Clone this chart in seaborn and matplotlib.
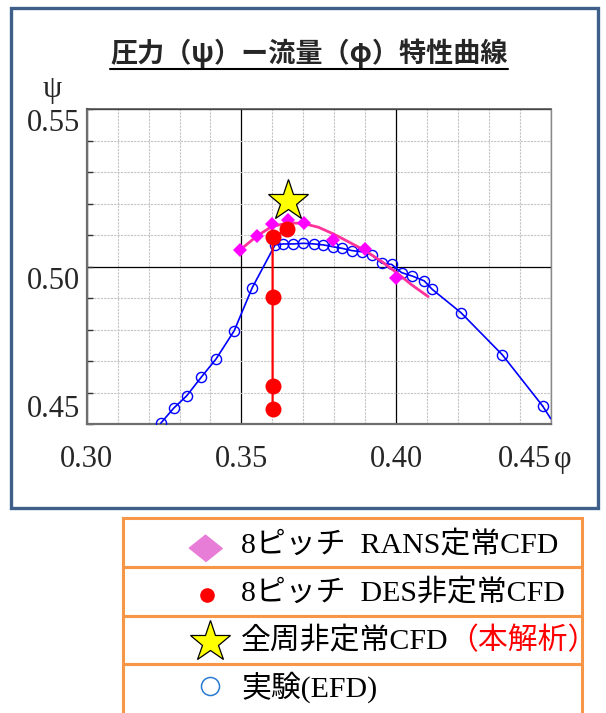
import numpy as np
import pandas as pd
import seaborn as sns
import matplotlib.pyplot as plt
from matplotlib.patches import Rectangle
from matplotlib.lines import Line2D
from matplotlib.ticker import MultipleLocator

# experiment (EFD)
exp_phi = [0.3239, 0.3282, 0.3323, 0.3370, 0.3418, 0.3477, 0.3535, 0.3609, 0.3636,
           0.3668, 0.3700, 0.3736, 0.3765, 0.3797, 0.3826, 0.3857, 0.3891, 0.3921,
           0.3954, 0.3986, 0.4018, 0.4053, 0.4091, 0.4117, 0.4210, 0.4344, 0.4474]
exp_psi = [0.4503, 0.4552, 0.4590, 0.4649, 0.4707, 0.4797, 0.4933, 0.5069, 0.5072,
           0.5072, 0.5074, 0.5072, 0.5069, 0.5063, 0.5058, 0.5051, 0.5047, 0.5037,
           0.5011, 0.5007, 0.4981, 0.4970, 0.4955, 0.4928, 0.4854, 0.4720, 0.4558]
exp_tail_phi = [0.4474, 0.4500]
exp_tail_psi = [0.4558, 0.4518]

# 8 pitch RANS
rans_phi = [0.3496, 0.3550, 0.3598, 0.3650, 0.3702, 0.3797, 0.3900, 0.4000]
rans_psi = [0.5053, 0.5097, 0.5135, 0.5148, 0.5139, 0.5085, 0.5055, 0.4965]
# its trend line
fit_phi = [0.3496, 0.3550, 0.3598, 0.3652, 0.3700, 0.3749, 0.3797, 0.3846, 0.3900,
           0.3954, 0.4002, 0.4051, 0.4104]
fit_psi = [0.5053, 0.5097, 0.5127, 0.5139, 0.5137, 0.5125, 0.5104, 0.5079, 0.5051,
           0.5016, 0.4981, 0.4942, 0.4905]

# 8 pitch DES
des_phi = [0.3601, 0.3601, 0.3601, 0.3601, 0.3649]
des_psi = [0.4548, 0.4622, 0.4903, 0.5093, 0.5118]

# full annulus
full_phi = [0.3650]
full_psi = [0.5209]

x_ticks = [0.30, 0.35, 0.40, 0.45]
x_labels = ['0.30', '0.35', '0.40', '0.45']
y_ticks = [0.45, 0.50, 0.55]
y_labels = ['0.45', '0.50', '0.55']

title = '圧力（ψ）ー流量（φ）特性曲線'
leg_texts = ['8ピッチ  RANS定常CFD', '8ピッチ  DES非定常CFD', '全周非定常CFD', '実験(EFD)']
leg_red = '（本解析）'

sns.set_style('white')
plt.rcParams['font.family'] = ['Liberation Serif', 'Noto Sans CJK JP']

W, H = 606, 713
fig = plt.figure(figsize=(W / 100, H / 100), dpi=100)

# background layer in pixel coords: frame and legend table
bg = fig.add_axes([0, 0, 1, 1])
bg.set_xlim(0, W)
bg.set_ylim(H, 0)
bg.axis('off')
bg.add_patch(Rectangle((11, 7.5), 587, 500, fill=False, ec='#3e5f8a', lw=2.4))
rows = [518, 566.7, 616, 664, 725]
for i in range(4):
    bg.add_patch(Rectangle((122.5, rows[i]), 459, rows[i + 1] - rows[i], fill=False,
                           ec='#f79646', lw=2.2, clip_on=False))

ycs = [545, 593, 641, 687]
bg.plot([205], [548], marker=[(-1, 0), (0, 0.8), (1, 0), (0, -0.8)], ms=24,
        color='#e87dd8', ls='none')
bg.plot([207], [595], marker='o', ms=9.5, color='#ff0000', ls='none')
bg.plot([210], [642], marker='*', ms=31, mfc='#ffff00', mec='black', mew=0.9, ls='none')
bg.plot([210], [686], marker='o', ms=13, mfc='none', mec='#2a7ad0', mew=1.1, ls='none')
for t, yc in zip(leg_texts, ycs):
    txt = bg.text(241, yc, t, fontsize=21.5, va='center', ha='left', color='black')
    if t.startswith('全周'):
        bg.annotate(leg_red, xy=(1, 0), xycoords=txt, xytext=(0, 0),
                    textcoords='offset points', fontsize=21.5, color='#ff0000',
                    va='bottom', ha='left')

# main plot
ax = fig.add_axes([86.7 / W, 1 - 424.3 / H, 464 / W, 315.3 / H])
ax.set_zorder(2)
ax.set_facecolor('white')

sns.lineplot(x=exp_phi, y=exp_psi, ax=ax, color='#0000ff', lw=1.2, estimator=None,
             sort=False, marker='o', ms=7.3, mfc='none', mec='#0000ff', mew=1.0, zorder=3)
sns.lineplot(x=exp_tail_phi, y=exp_tail_psi, ax=ax, color='#0000ff', lw=1.2,
             estimator=None, sort=False, zorder=3)
sns.lineplot(x=fit_phi, y=fit_psi, ax=ax, color='#ff3399', lw=2.0, estimator=None,
             sort=False, zorder=4)
sns.lineplot(x=rans_phi, y=rans_psi, ax=ax, ls='none', marker='D', ms=7,
             mfc='#ff00ff', mec='#ff00ff', mew=0, estimator=None, sort=False, zorder=5)
sns.lineplot(x=des_phi, y=des_psi, ax=ax, color='#ff0000', lw=1.6, marker='o', ms=11.5,
             mfc='#ff0000', mec='#ff0000', mew=0, estimator=None, sort=False, zorder=6)
sns.lineplot(x=full_phi, y=full_psi, ax=ax, ls='none', marker='*', ms=31,
             mfc='#ffff00', mec='black', mew=0.9, estimator=None, sort=False, zorder=7)

ax.set_xlim(0.30, 0.45)
ax.set_ylim(0.45, 0.55)
ax.xaxis.set_minor_locator(MultipleLocator(0.01))
ax.yaxis.set_minor_locator(MultipleLocator(0.01))
ax.set_xticks(x_ticks)
ax.set_xticklabels(x_labels)
ax.set_yticks(y_ticks)
ax.set_yticklabels(y_labels)
ax.grid(which='major', color='black', lw=0.9, ls='-')
ax.grid(which='minor', color='#c4c4c4', lw=0.8, ls=(0, (2, 1)))
ax.set_axisbelow(True)
ax.set_xlabel('')
ax.set_ylabel('')

ax.tick_params(axis='x', which='both', length=0, pad=15, labelsize=22)
ax.tick_params(axis='y', which='both', direction='in', length=4.5, width=1,
               color='#333333', pad=5, labelsize=22, left=True)
for lbl in ax.get_yticklabels():
    lbl.set_va('bottom' if lbl.get_text() == '0.45' else 'top')
for lbl in ax.get_xticklabels():
    if lbl.get_text() == '0.45':
        lbl.set_ha('right')

ax.spines['left'].set_color('#6e6e6e')
ax.spines['left'].set_linewidth(1.6)
ax.spines['bottom'].set_color('#6e6e6e')
ax.spines['bottom'].set_linewidth(1.6)
ax.spines['top'].set_color('#555555')
ax.spines['top'].set_linewidth(1.2)
ax.spines['right'].set_color('#8a8a8a')
ax.spines['right'].set_linewidth(1.0)

fig.text(554 / W, 1 - 445 / H, 'φ', fontsize=22, ha='left', va='top')
fig.text(51.7 / W, 1 - 90 / H, 'ψ', fontsize=22, ha='center', va='center')

t = fig.text(309 / W, 1 - 53 / H, title, fontsize=19.5, fontweight='bold', ha='center',
             va='center', family=['Noto Sans CJK JP', 'DejaVu Sans'])
fig.canvas.draw()
bb = t.get_window_extent()
uy = bb.y0 - 1
fig.add_artist(Line2D([bb.x0 / W, bb.x1 / W], [uy / H, uy / H], color='black',
                      lw=1.5, transform=fig.transFigure))

fig.savefig('out.png', dpi=100)
